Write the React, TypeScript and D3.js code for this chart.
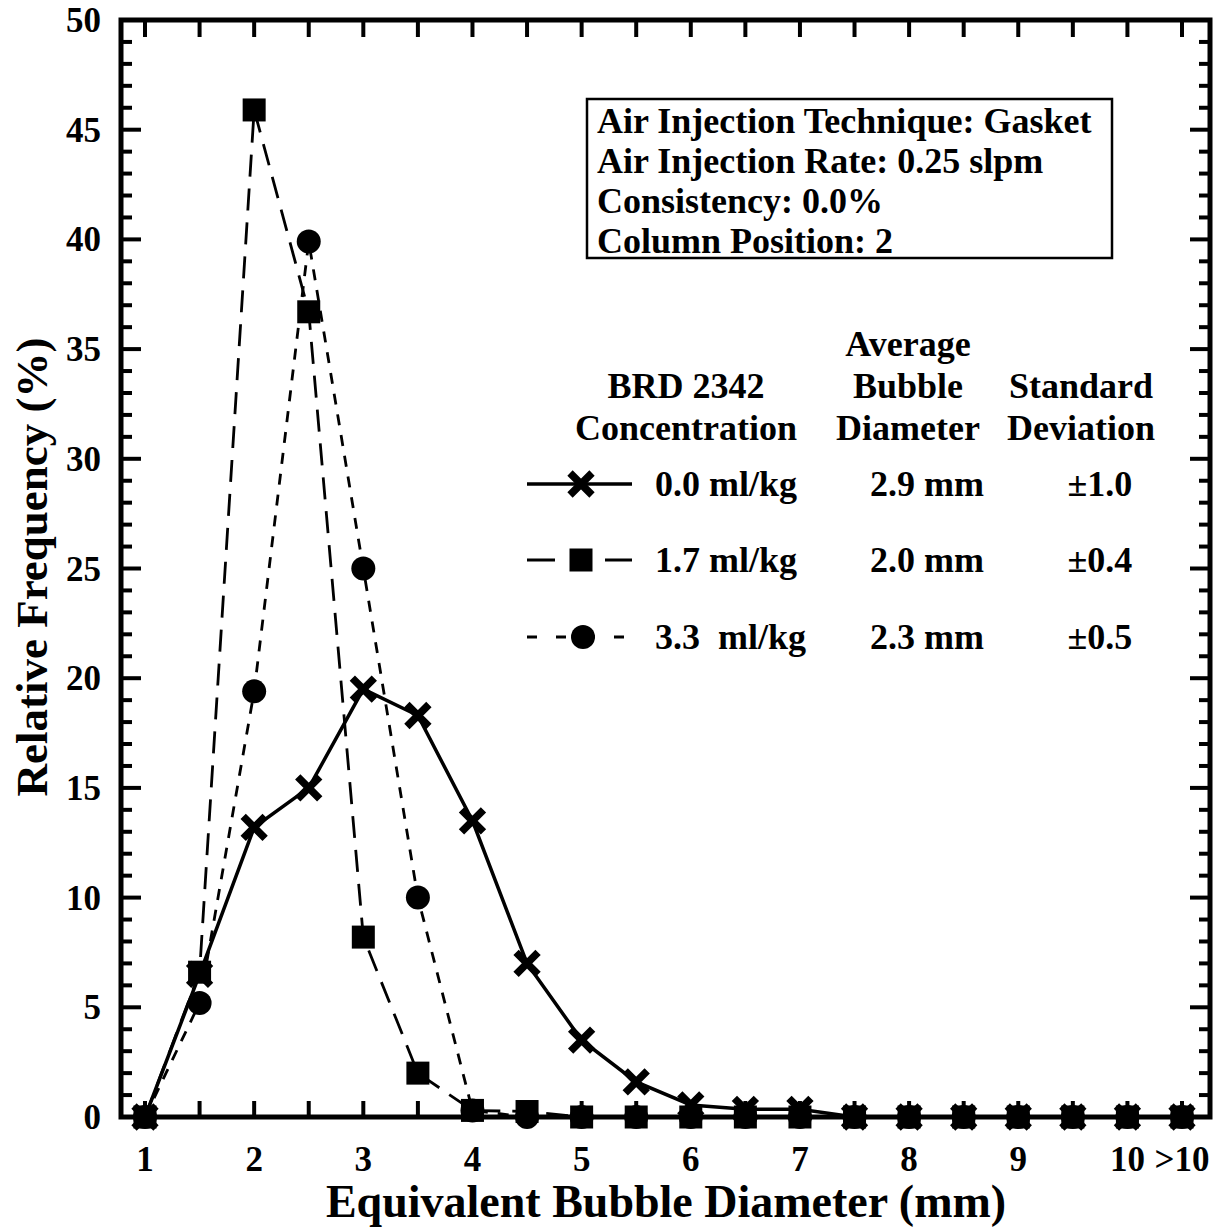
import React from "react";
import * as d3 from "d3";

// ---- data ----
const diameters = [1, 1.5, 2, 2.5, 3, 3.5, 4, 4.5, 5, 5.5, 6, 6.5, 7, 7.5, 8, 8.5, 9, 9.5, 10, 10.5];
const conc00 = [0, 6.5, 13.2, 15.0, 19.5, 18.3, 13.5, 7.0, 3.5, 1.6, 0.55, 0.35, 0.35, 0, 0, 0, 0, 0, 0, 0];
const conc17 = [0, 6.6, 45.9, 36.7, 8.2, 2.0, 0.3, 0.25, 0, 0, 0, 0, 0, 0, 0, 0, 0, 0, 0, 0];
const conc33 = [0, 5.2, 19.4, 39.9, 25.0, 10.0, 0.3, 0, 0, 0, 0, 0, 0, 0, 0, 0, 0, 0, 0, 0];

const xTickValues = [1, 2, 3, 4, 5, 6, 7, 8, 9, 10, 10.5];
const xTickLabels = ["1", "2", "3", "4", "5", "6", "7", "8", "9", "10", ">10"];
const yTickValues = [0, 5, 10, 15, 20, 25, 30, 35, 40, 45, 50];

const infoLines = [
  "Air Injection Technique: Gasket",
  "Air Injection Rate: 0.25 slpm",
  "Consistency: 0.0%",
  "Column Position: 2",
];
const legendConc = ["0.0 ml/kg", "1.7 ml/kg", "3.3  ml/kg"];
const legendAvg = ["2.9 mm", "2.0 mm", "2.3 mm"];
const legendStd = ["±1.0", "±0.4", "±0.5"];

const FONT = "'Liberation Serif', 'Times New Roman', serif";

export default function App() {
  const W = 1224, H = 1231;
  const left = 121, right = 1210, top = 20, bottom = 1117;
  const x = d3.scaleLinear().domain([1, 10.5]).range([145, 1182]);
  const y = d3.scaleLinear().domain([0, 50]).range([bottom, top]);

  const line = d3
    .line<number>()
    .x((_, i) => x(diameters[i]))
    .y((v) => y(v));

  const halfTicks = d3.range(1, 10.51, 0.5);
  const yMinor = d3.range(1, 50, 1);

  const xMark = (cx: number, cy: number, key: string) => (
    <path
      key={key}
      d={`M${cx - 11},${cy - 11}L${cx + 11},${cy + 11}M${cx - 11},${cy + 11}L${cx + 11},${cy - 11}`}
      stroke="#000"
      strokeWidth={7.5}
      fill="none"
    />
  );
  const sqMark = (cx: number, cy: number, key: string) => (
    <rect key={key} x={cx - 11.5} y={cy - 11.5} width={23} height={23} fill="#000" />
  );
  const ciMark = (cx: number, cy: number, key: string) => (
    <circle key={key} cx={cx} cy={cy} r={12} fill="#000" />
  );

  const legendRows = [484, 560, 637];

  return (
    <svg
      width={W}
      height={H}
      style={{ position: "absolute", left: 0, top: 0, background: "#fff" }}
      fontFamily={FONT}
      fontWeight="bold"
    >
      <rect x={0} y={0} width={W} height={H} fill="#fff" />

      {/* ticks */}
      {halfTicks.map((t) => (
        <g key={"xt" + t}>
          <line x1={x(t)} x2={x(t)} y1={bottom} y2={bottom - 16} stroke="#000" strokeWidth={4} />
          <line x1={x(t)} x2={x(t)} y1={top} y2={top + 17} stroke="#000" strokeWidth={4} />
        </g>
      ))}
      {yMinor.map((t) => {
        const len = t % 5 === 0 ? 20 : 11;
        return (
          <g key={"yt" + t}>
            <line x1={left} x2={left + len} y1={y(t)} y2={y(t)} stroke="#000" strokeWidth={4} />
            <line x1={right} x2={right - len} y1={y(t)} y2={y(t)} stroke="#000" strokeWidth={4} />
          </g>
        );
      })}

      {/* frame */}
      <rect x={left} y={top} width={right - left} height={bottom - top} fill="none" stroke="#000" strokeWidth={5} />

      {/* tick labels */}
      {yTickValues.map((t) => (
        <text key={"yl" + t} x={101} y={y(t) + 12} textAnchor="end" fontSize={35}>
          {t}
        </text>
      ))}
      {xTickValues.map((t, i) => (
        <text key={"xl" + t} x={x(t)} y={1171} textAnchor="middle" fontSize={35}>
          {xTickLabels[i]}
        </text>
      ))}

      {/* axis titles */}
      <text x={666} y={1217} textAnchor="middle" fontSize={46}>
        Equivalent Bubble Diameter (mm)
      </text>
      <text transform="translate(47,567) rotate(-90)" textAnchor="middle" fontSize={45}>
        Relative Frequency (%)
      </text>

      {/* series lines */}
      <path d={line(conc00) || ""} fill="none" stroke="#000" strokeWidth={3.5} />
      <path d={line(conc17) || ""} fill="none" stroke="#000" strokeWidth={2.8} strokeDasharray="22,12" />
      <path d={line(conc33) || ""} fill="none" stroke="#000" strokeWidth={2.8} strokeDasharray="11,10" />

      {/* markers */}
      {conc00.map((v, i) => xMark(x(diameters[i]), y(v), "x" + i))}
      {conc33.map((v, i) => ciMark(x(diameters[i]), y(v), "c" + i))}
      {conc17.map((v, i) => sqMark(x(diameters[i]), y(v), "s" + i))}

      {/* info box */}
      <rect x={587} y={99} width={525} height={159} fill="#fff" stroke="#000" strokeWidth={2.5} />
      {infoLines.map((s, i) => (
        <text key={"info" + i} x={597} y={133 + i * 40} fontSize={36}>
          {s}
        </text>
      ))}

      {/* legend header */}
      <g fontSize={36} textAnchor="middle">
        <text x={908} y={356}>Average</text>
        <text x={686} y={398}>BRD 2342</text>
        <text x={908} y={398}>Bubble</text>
        <text x={1081} y={398}>Standard</text>
        <text x={686} y={440}>Concentration</text>
        <text x={908} y={440}>Diameter</text>
        <text x={1081} y={440}>Deviation</text>
      </g>

      {/* legend rows */}
      <line x1={527} x2={632} y1={legendRows[0]} y2={legendRows[0]} stroke="#000" strokeWidth={3.5} />
      {xMark(581, legendRows[0], "lx")}
      <line x1={527} x2={632} y1={legendRows[1]} y2={legendRows[1]} stroke="#000" strokeWidth={3} strokeDasharray="28,50" />
      {sqMark(581, legendRows[1], "ls")}
      <line x1={527} x2={632} y1={legendRows[2]} y2={legendRows[2]} stroke="#000" strokeWidth={3} strokeDasharray="10,19" />
      {ciMark(583, legendRows[2], "lc")}
      {legendRows.map((ry, i) => (
        <g key={"lr" + i} fontSize={36}>
          <text x={655} y={ry + 12} style={{ whiteSpace: "pre" }}>{legendConc[i]}</text>
          <text x={927} y={ry + 12} textAnchor="middle">{legendAvg[i]}</text>
          <text x={1100} y={ry + 12} textAnchor="middle">{legendStd[i]}</text>
        </g>
      ))}
    </svg>
  );
}
